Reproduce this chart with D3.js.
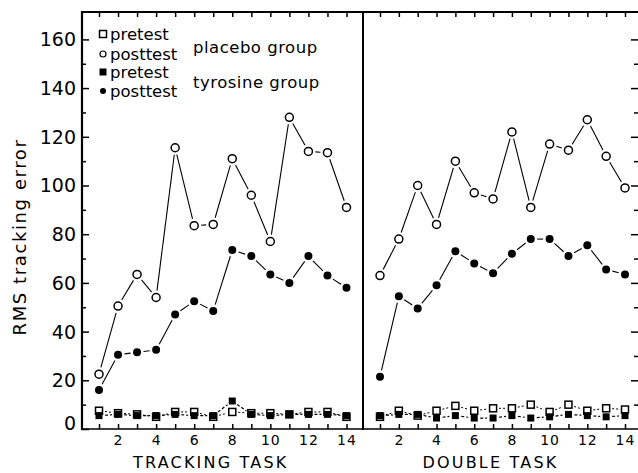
<!DOCTYPE html>
<html><head><meta charset="utf-8">
<script src="https://cdn.jsdelivr.net/npm/d3@7"></script>
<style>
body{margin:0;background:#fff;}
svg{display:block;}
text{font-family:"DejaVu Sans",sans-serif;fill:#000;}
</style></head>
<body><svg id="c" width="638" height="473"></svg>
<script>
// ---- data ----
const sessions = [1,2,3,4,5,6,7,8,9,10,11,12,13,14];
const panels = ["TRACKING TASK","DOUBLE TASK"];
const yTicks = [0,20,40,60,80,100,120,140,160];
const yMinorTicks = [10,30,50,70,90,110,130,150];
const xTickLabels = [2,4,6,8,10,12,14];
const legendLabels = ["pretest","posttest","pretest","posttest"];
const groupLabels = ["placebo group","tyrosine group"];
const yTitle = "RMS tracking error";

// Tracking task
const trackPlaceboPre  = [7.5,6.5,6,5,7,7,5,7,6.5,6.5,6,7,7,5];
const trackPlaceboPost = [22.5,50.5,63.5,54,115.5,83.5,84,111,96,77,128,114,113.5,91];
const trackTyroPre     = [5.5,6,5.5,5.5,6,5.5,5.5,11.5,6,5.5,6,6,6,5.5];
const trackTyroPost    = [16,30.5,31.5,32.5,47,52.5,48.5,73.5,71,63.5,60,71,63,58];
// Double task
const dblPlaceboPre  = [5,7.5,5.5,7.5,9.5,7.5,8.5,8.5,10,7,10,7.5,8.5,8];
const dblPlaceboPost = [63,78,100,84,110,97,94.5,122,91,117,114.5,127,112,99];
const dblTyroPre     = [5.5,6,6,4.5,5.5,4.5,4.5,5.5,4.5,5,6,5.5,5,5.5];
const dblTyroPost    = [21.5,54.5,49.5,59,73,68,64,72,78,78,71,75.5,65.5,63.5];

// ---- layout ----
const svg = d3.select("#c");
const X0 = 82, XD = 363, X1 = 638, YT = 12, YB = 429;
const y = d3.scaleLinear().domain([0,160]).range([YB, 39.4]);
const xL = d3.scaleLinear().domain([1,14]).range([99, 346.5]);
const xR = d3.scaleLinear().domain([1,14]).range([380, 625]);

// frame
const frame = svg.append("g").attr("stroke","#000").attr("fill","none");
frame.append("line").attr("x1",X0).attr("x2",X0).attr("y1",YT-1).attr("y2",YB+1).attr("stroke-width",2.2);
frame.append("line").attr("x1",XD).attr("x2",XD).attr("y1",YT).attr("y2",YB+1).attr("stroke-width",2);
frame.append("line").attr("x1",X0).attr("x2",X1).attr("y1",YT).attr("y2",YT).attr("stroke-width",2);
frame.append("line").attr("x1",X0).attr("x2",X1).attr("y1",YB).attr("y2",YB).attr("stroke-width",1.6);

function styleAxis(g){
  g.select(".domain").remove();
  g.selectAll(".tick line").attr("stroke","#000").attr("stroke-width",1.5);
}

// left y axis
svg.append("g").attr("transform",`translate(${X0},0)`)
  .call(d3.axisLeft(y).tickValues(yTicks).tickSizeInner(-7).tickSizeOuter(0).tickPadding(6))
  .call(styleAxis)
  .call(g=>g.selectAll("text").style("font-size","19px").attr("dy", d => d===0 ? "-0.0em" : "0.34em"));
svg.append("g").attr("transform",`translate(${X0},0)`)
  .call(d3.axisLeft(y).tickValues(yMinorTicks).tickSizeInner(-4).tickSizeOuter(0).tickFormat(""))
  .call(styleAxis);
// right ticks
svg.append("g").attr("transform",`translate(${X1},0)`)
  .call(d3.axisLeft(y).tickValues(yTicks.slice(1)).tickSizeInner(7).tickSizeOuter(0).tickFormat(""))
  .call(styleAxis);
svg.append("g").attr("transform",`translate(${X1},0)`)
  .call(d3.axisLeft(y).tickValues(yMinorTicks).tickSizeInner(4).tickSizeOuter(0).tickFormat(""))
  .call(styleAxis);

// x axes
[xL,xR].forEach((xs,i)=>{
  svg.append("g").attr("transform",`translate(0,${YB})`)
    .call(d3.axisBottom(xs).tickValues(sessions).tickSizeInner(-5).tickSizeOuter(0).tickPadding(6)
      .tickFormat(d => xTickLabels.includes(d) ? d : ""))
    .call(styleAxis)
    .call(g=>g.selectAll("text").style("font-size","14px").attr("letter-spacing","1px"));
  svg.append("g").attr("transform",`translate(0,${YT})`)
    .call(d3.axisTop(xs).tickValues(sessions).tickSizeInner(-5).tickSizeOuter(0).tickFormat(""))
    .call(styleAxis);
  const cx = (xs(1)+xs(14))/2 - 12;
  svg.append("text").attr("x", cx).attr("y", 468).attr("text-anchor","middle")
    .style("font-size","16px").attr("letter-spacing","2.2px").text(panels[i]);
});

// y title
svg.append("text").attr("transform","translate(26,237) rotate(-90)").attr("text-anchor","middle")
  .style("font-size","18px").attr("letter-spacing","1.6px").text(yTitle);

// ---- series ----
function gapLines(xs, vals, gap, dash, width){
  const pts = vals.map((v,i)=>[xs(sessions[i]), y(v)]);
  const g = svg.append("g").attr("stroke","#000").attr("stroke-width",width).attr("fill","none");
  for(let i=0;i<pts.length-1;i++){
    const [ax,ay]=pts[i],[bx,by]=pts[i+1];
    const dx=bx-ax, dy=by-ay, L=Math.hypot(dx,dy);
    if(L<=2*gap+1) continue;
    const ux=dx/L, uy=dy/L;
    g.append("line").attr("x1",ax+ux*gap).attr("y1",ay+uy*gap)
      .attr("x2",bx-ux*gap).attr("y2",by-uy*gap)
      .attr("stroke-dasharray",dash||null);
  }
}
function markers(xs, vals, type){
  const g = svg.append("g");
  vals.forEach((v,i)=>{
    const cx=xs(sessions[i]), cy=y(v);
    if(type==="oc") g.append("circle").attr("cx",cx).attr("cy",cy).attr("r",4).attr("fill","#fff").attr("stroke","#000").attr("stroke-width",1.5);
    if(type==="fc") g.append("circle").attr("cx",cx).attr("cy",cy).attr("r",4).attr("fill","#000");
    if(type==="os") g.append("rect").attr("x",cx-3.5).attr("y",cy-3.5).attr("width",7).attr("height",7).attr("fill","#fff").attr("stroke","#000").attr("stroke-width",1.5);
    if(type==="fs") g.append("rect").attr("x",cx-3.5).attr("y",cy-3.5).attr("width",7).attr("height",7).attr("fill","#000");
  });
}
const sets = [
  [xL, trackPlaceboPre, trackPlaceboPost, trackTyroPre, trackTyroPost],
  [xR, dblPlaceboPre, dblPlaceboPost, dblTyroPre, dblTyroPost]
];
sets.forEach(([xs,pp,po,tp,to])=>{
  gapLines(xs, pp, 6, "2,2", 1);
  gapLines(xs, tp, 6, "3,2", 1.2);
  gapLines(xs, po, 7, null, 1.1);
  gapLines(xs, to, 6.5, null, 1.1);
  markers(xs, pp, "os");
  markers(xs, tp, "fs");
  markers(xs, po, "oc");
  markers(xs, to, "fc");
});

// ---- legend ----
const lg = svg.append("g");
const lx = 103, lys = [34, 54, 72, 91];
lg.append("rect").attr("x",lx-3.5).attr("y",lys[0]-3.5).attr("width",7).attr("height",7).attr("fill","#fff").attr("stroke","#000").attr("stroke-width",1.5);
lg.append("circle").attr("cx",lx).attr("cy",lys[1]).attr("r",3).attr("fill","#fff").attr("stroke","#000").attr("stroke-width",1.2);
lg.append("rect").attr("x",lx-3.5).attr("y",lys[2]-3.5).attr("width",7).attr("height",7).attr("fill","#000");
lg.append("circle").attr("cx",lx).attr("cy",lys[3]).attr("r",3).attr("fill","#000");
legendLabels.forEach((t,i)=>{
  lg.append("text").attr("x",110).attr("y",lys[i]+6).style("font-size","16.5px").text(t);
});
lg.append("text").attr("x",193).attr("y",53).style("font-size","16.5px").attr("letter-spacing","0.5px").text(groupLabels[0]);
lg.append("text").attr("x",193).attr("y",88).style("font-size","16.5px").attr("letter-spacing","0.5px").text(groupLabels[1]);
</script></body></html>
